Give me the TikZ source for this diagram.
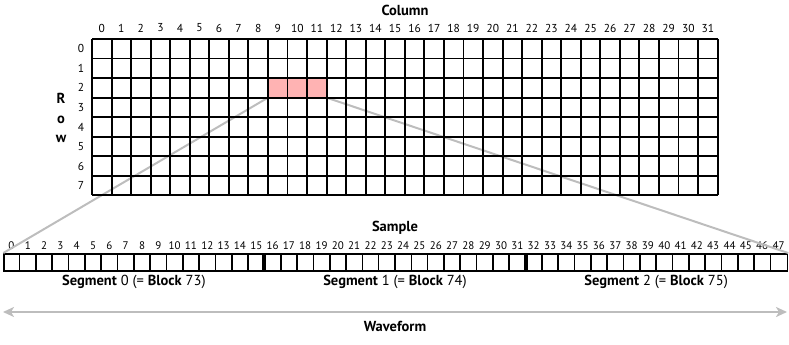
\documentclass[tikz,border=0pt]{standalone}
\usepackage{fontspec}
\setmainfont{PT Sans}
\usetikzlibrary{arrows.meta}
\definecolor{hlpink}{HTML}{FFB3B3}
\definecolor{linegray}{HTML}{BDBDBD}
\begin{document}
\begin{tikzpicture}[
	x=1pt, y=-1pt,
	cellline/.style={line width=1.9pt},
	barline/.style={line width=1.6pt},
	segsep/.style={line width=4pt},
	zoomline/.style={draw=linegray, line width=2pt},
	wave/.style={draw=linegray, line width=2.5pt,
		{Stealth[length=11pt, width=10pt, inset=3pt]}-{Stealth[length=11pt, width=10pt, inset=3pt]}},
	num/.style={font=\fontsize{11.5}{13}\selectfont, inner sep=0pt},
	smpnum/.style={font=\fontsize{11}{13}\selectfont, inner sep=0pt},
	ttl/.style={font=\bfseries\fontsize{14.5}{16}\selectfont, inner sep=0pt},
	seglbl/.style={font=\fontsize{14.5}{16}\selectfont, inner sep=0pt}
]
\useasboundingbox (0,0) rectangle (789,345);
\def\cw{19.55}
\def\sw{16.32}

% Sample bar
\node[draw, barline, minimum width=48*\sw pt, minimum height=17pt, inner sep=0pt,
	anchor=north west] (sbar) at (3.3, 253) {};
\foreach \k in {1,...,47}
	\draw[barline] (3.3+\k*\sw, 253) -- (3.3+\k*\sw, 270);
\foreach \k in {16,32}
	\draw[segsep] (3.3+\k*\sw, 253) -- (3.3+\k*\sw, 270);
\foreach \k in {0,...,47}
	\node[smpnum] (smp\k) at (3.3+\k*\sw+0.5*\sw, 246) {\k};
\node[ttl] (smptitle) at (395, 228) {Sample};

\node[seglbl] (seg0) at (3.3+8*\sw, 282) {\textbf{Segment} 0 (= \textbf{Block} 73)};
\node[seglbl] (seg1) at (3.3+24*\sw, 282) {\textbf{Segment} 1 (= \textbf{Block} 74)};
\node[seglbl] (seg2) at (3.3+40*\sw, 282) {\textbf{Segment} 2 (= \textbf{Block} 75)};

% Zoom lines (under the grid)
\fill[hlpink] (92+9*\cw, 39+2*\cw) rectangle ++(3*\cw, \cw);
\coordinate (hlleft) at (92+9*\cw, 39+3*\cw);
\coordinate (hlright) at (92+12*\cw, 39+3*\cw);
\draw[zoomline] (hlleft) -- (sbar.north west);
\draw[zoomline] (hlright) -- (sbar.north east);

% Row/column grid
\foreach \i in {0,...,32}
	\draw[cellline] (92+\i*\cw, 39) -- (92+\i*\cw, 39+8*\cw);
\foreach \j in {0,...,8}
	\draw[cellline] (92, 39+\j*\cw) -- (92+32*\cw, 39+\j*\cw);

\foreach \i in {0,...,31}
	\node[num] (col\i) at (92+\i*\cw+0.5*\cw, 28) {\i};
\foreach \j in {0,...,7}
	\node[num] (row\j) at (81, 39+\j*\cw+0.5*\cw) {\j};
\node[ttl] (coltitle) at (405, 10) {Column};
\node[ttl, align=center, font=\bfseries\fontsize{14.5}{19.5}\selectfont] (rowtitle) at (61, 118) {R\\o\\w};

% Waveform
\coordinate (wfleft) at (3, 312);
\coordinate (wfright) at (787, 312);
\draw[wave] (wfleft) -- (wfright);
\node[ttl] (wftitle) at (395, 326) {Waveform};
\end{tikzpicture}
\end{document}
